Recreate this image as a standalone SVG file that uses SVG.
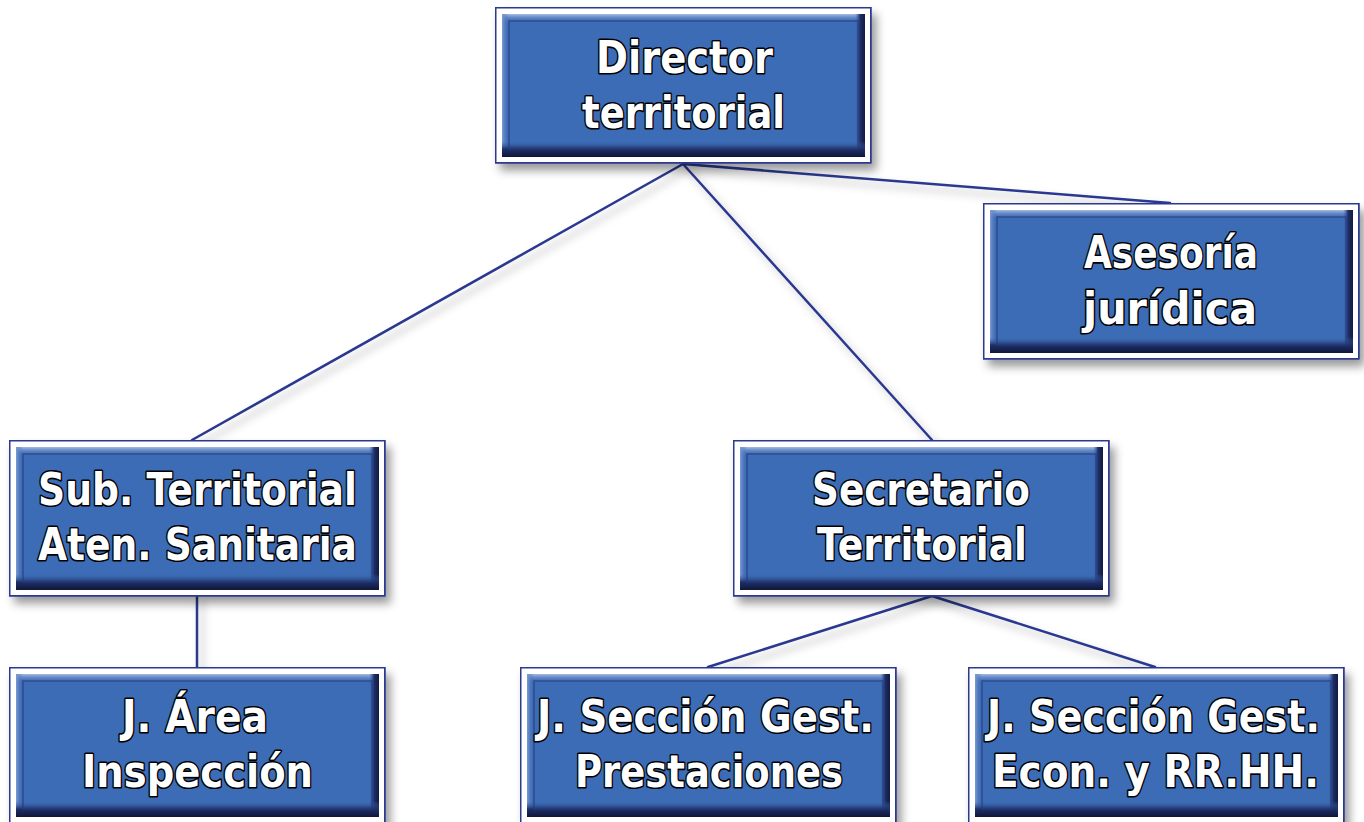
<svg xmlns="http://www.w3.org/2000/svg" xmlns:xlink="http://www.w3.org/1999/xlink" width="1364" height="822" viewBox="0 0 1364 822">
<style>
.conn{stroke:#2b3990;stroke-width:2.5;fill:none;stroke-linecap:round}
.lbl{font-family:"DejaVu Sans","Liberation Sans",sans-serif;font-weight:bold;font-size:45px;fill:#ffffff;stroke:#000000;stroke-width:3.2;stroke-linejoin:round;paint-order:stroke;text-anchor:start}
</style>
<defs>
<filter id="sh" x="-10%" y="-10%" width="125%" height="130%">
<feDropShadow dx="5" dy="7" stdDeviation="5" flood-color="#000" flood-opacity="0.4"/>
</filter>
<filter id="lsh" x="-10%" y="-10%" width="120%" height="120%">
<feDropShadow dx="5" dy="6" stdDeviation="4" flood-color="#000" flood-opacity="0.3"/>
</filter>
<linearGradient id="gTop" x1="0" y1="0" x2="0" y2="1">
<stop offset="0" stop-color="#a9bde4"/>
<stop offset="1" stop-color="#3c6cb5" stop-opacity="0"/>
</linearGradient>
<linearGradient id="gBot" x1="0" y1="0" x2="0" y2="1">
<stop offset="0" stop-color="#3c6cb5" stop-opacity="0"/>
<stop offset="0.5" stop-color="#1f3068"/>
<stop offset="1" stop-color="#0f1638"/>
</linearGradient>
<linearGradient id="gRight" x1="0" y1="0" x2="1" y2="0">
<stop offset="0" stop-color="#3c6cb5" stop-opacity="0"/>
<stop offset="0.5" stop-color="#1f3068"/>
<stop offset="1" stop-color="#111a40"/>
</linearGradient>
<linearGradient id="gLeft" x1="0" y1="0" x2="1" y2="0">
<stop offset="0" stop-color="#7f9bd2"/>
<stop offset="1" stop-color="#3c6cb5" stop-opacity="0"/>
</linearGradient>
<g id="box">
<rect x="0.75" y="0.75" width="375" height="155" fill="#ffffff" stroke="#2b3990" stroke-width="1.5" filter="url(#sh)"/>
<rect x="0.75" y="0.75" width="375" height="155" fill="#ffffff" stroke="#2b3990" stroke-width="1.5"/>
<rect x="7" y="7" width="363" height="143" fill="#3c6cb5"/>
<rect x="7" y="7" width="363" height="9" fill="url(#gTop)"/>
<rect x="7" y="7" width="7" height="143" fill="url(#gLeft)"/>
<rect x="360" y="7" width="10" height="143" fill="url(#gRight)"/>
<rect x="7" y="134" width="363" height="16" fill="url(#gBot)"/>
<rect x="14" y="14" width="349" height="128" fill="none" stroke="#2a3a80" stroke-width="1.5" stroke-opacity="0.7"/>
</g>
</defs>
<rect width="1364" height="822" fill="#ffffff"/>
<g id="connectors" filter="url(#lsh)">
<line class="conn" x1="683" y1="164" x2="192" y2="440"/>
<line class="conn" x1="683" y1="164" x2="932" y2="440"/>
<line class="conn" x1="683" y1="164" x2="1170" y2="203"/>
<line class="conn" x1="197" y1="596" x2="197" y2="667"/>
<line class="conn" x1="932" y1="596" x2="708" y2="667"/>
<line class="conn" x1="932" y1="596" x2="1155" y2="667"/>
</g>
<g id="director">
<use xlink:href="#box" x="495" y="7"/>
<text class="lbl" x="596" y="73" textLength="177" lengthAdjust="spacingAndGlyphs">Director</text>
<text class="lbl" x="582" y="128" textLength="203" lengthAdjust="spacingAndGlyphs">territorial</text>
</g>
<g id="asesoria">
<use xlink:href="#box" x="983" y="203"/>
<text class="lbl" x="1084" y="268" textLength="174" lengthAdjust="spacingAndGlyphs">Asesoría</text>
<text class="lbl" x="1083" y="324" textLength="174" lengthAdjust="spacingAndGlyphs">jurídica</text>
</g>
<g id="subterritorial">
<use xlink:href="#box" x="9" y="440"/>
<text class="lbl" x="38" y="505" textLength="319" lengthAdjust="spacingAndGlyphs">Sub. Territorial</text>
<text class="lbl" x="38" y="560" textLength="319" lengthAdjust="spacingAndGlyphs">Aten. Sanitaria</text>
</g>
<g id="secretario">
<use xlink:href="#box" x="733" y="440"/>
<text class="lbl" x="812" y="505" textLength="218" lengthAdjust="spacingAndGlyphs">Secretario</text>
<text class="lbl" x="817" y="560" textLength="210" lengthAdjust="spacingAndGlyphs">Territorial</text>
</g>
<g id="jarea">
<use xlink:href="#box" x="9" y="667"/>
<text class="lbl" x="122" y="732" textLength="146" lengthAdjust="spacingAndGlyphs">J. Área</text>
<text class="lbl" x="82" y="787" textLength="231" lengthAdjust="spacingAndGlyphs">Inspección</text>
</g>
<g id="prestaciones">
<use xlink:href="#box" x="520" y="667"/>
<text class="lbl" x="537" y="732" textLength="337" lengthAdjust="spacingAndGlyphs">J. Sección Gest.</text>
<text class="lbl" x="575" y="787" textLength="268" lengthAdjust="spacingAndGlyphs">Prestaciones</text>
</g>
<g id="econ">
<use xlink:href="#box" x="968" y="667"/>
<text class="lbl" x="987" y="732" textLength="333" lengthAdjust="spacingAndGlyphs">J. Sección Gest.</text>
<text class="lbl" x="992" y="787" textLength="327" lengthAdjust="spacingAndGlyphs">Econ. y RR.HH.</text>
</g>
</svg>
